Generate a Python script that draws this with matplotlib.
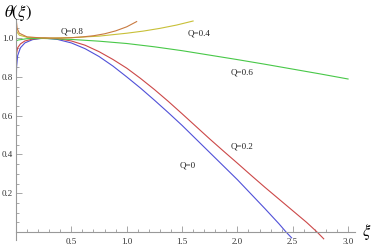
import numpy as np
import matplotlib.pyplot as plt
from matplotlib.ticker import MultipleLocator, FixedLocator

plt.rcParams['font.family'] = ['Liberation Serif', 'DejaVu Serif']
plt.rcParams['mathtext.fontset'] = 'stix'

# theta(xi) for each Q
xi_q0 = [0.001, 0.005, 0.015, 0.04, 0.08, 0.15, 0.25, 0.375, 0.5, 0.625, 0.75, 0.875, 1.0, 1.125, 1.25,
         1.375, 1.5, 1.625, 1.75, 1.875, 2.0, 2.125, 2.25, 2.375, 2.44, 2.49]
th_q0 = [0.72, 0.85, 0.91, 0.95, 0.975, 0.992, 1.0, 0.993, 0.975, 0.945, 0.905, 0.856, 0.80, 0.742, 0.68,
         0.616, 0.55, 0.48, 0.41, 0.34, 0.27, 0.195, 0.12, 0.043, 0.0, -0.03]

xi_q02 = [0.001, 0.005, 0.015, 0.04, 0.08, 0.15, 0.25, 0.375, 0.5, 0.625, 0.75, 0.875, 1.0, 1.125, 1.25,
          1.375, 1.5, 1.625, 1.75, 1.875, 2.0, 2.125, 2.25, 2.375, 2.5, 2.625, 2.72, 2.78]
th_q02 = [0.88, 0.92, 0.95, 0.97, 0.985, 0.995, 1.0, 0.997, 0.985, 0.963, 0.93, 0.89, 0.845, 0.792, 0.735,
          0.674, 0.61, 0.545, 0.48, 0.417, 0.355, 0.292, 0.23, 0.17, 0.11, 0.05, 0.0, -0.035]

xi_q06 = [0.001, 0.02, 0.1, 0.25, 0.5, 0.75, 1.0, 1.25, 1.5, 1.75, 2.0, 2.25, 2.5, 2.75, 3.0]
th_q06 = [0.985, 0.99, 0.997, 0.998, 0.993, 0.984, 0.972, 0.955, 0.935, 0.912, 0.889, 0.865, 0.84, 0.815, 0.789]

xi_q04 = [0.001, 0.01, 0.03, 0.1, 0.3, 0.5, 0.75, 1.0, 1.15, 1.3, 1.45, 1.6]
th_q04 = [1.06, 1.03, 1.015, 1.004, 1.0, 1.002, 1.01, 1.025, 1.036, 1.05, 1.067, 1.088]

xi_q08 = [0.001, 0.01, 0.03, 0.1, 0.25, 0.4, 0.5, 0.6, 0.7, 0.8, 0.9, 1.0, 1.09]
th_q08 = [1.1, 1.05, 1.025, 1.006, 1.0, 1.0, 1.002, 1.006, 1.012, 1.022, 1.037, 1.058, 1.085]

labels = ['Q=0', 'Q=0.2', 'Q=0.4', 'Q=0.6', 'Q=0.8']
label_x = [1.554, 2.04, 1.653, 2.04, 0.506]
label_y = [0.345, 0.443, 1.026, 0.82, 1.036]

fig = plt.figure(figsize=(3.74, 2.49), dpi=100)
ax = fig.add_axes([0.0428, 0.037, 0.9056, 0.888])

ax.plot(xi_q0, th_q0, color='#5050d8', lw=0.8)
ax.plot(xi_q02, th_q02, color='#cc4848', lw=0.8)
ax.plot(xi_q06, th_q06, color='#48c848', lw=0.8)
ax.plot(xi_q04, th_q04, color='#c8c038', lw=0.8)
ax.plot(xi_q08, th_q08, color='#c87a40', lw=0.8)

for t, x, y in zip(labels, label_x, label_y):
    ax.text(x, y, t, fontsize=6.5, ha='center', va='center', color='#222222')

ax.set_xlim(0, 3.06)
ax.set_ylim(-0.04, 1.1)

for s in ['top', 'right']:
    ax.spines[s].set_visible(False)
ax.spines['left'].set_position(('data', 0))
ax.spines['bottom'].set_position(('data', 0))
for s in ['left', 'bottom']:
    ax.spines[s].set_color('#999999')
    ax.spines[s].set_linewidth(0.8)

ax.xaxis.set_major_locator(FixedLocator([0.5, 1.0, 1.5, 2.0, 2.5, 3.0]))
ax.xaxis.set_minor_locator(MultipleLocator(0.1))
ax.yaxis.set_major_locator(FixedLocator([0.2, 0.4, 0.6, 0.8, 1.0]))
ax.yaxis.set_minor_locator(MultipleLocator(0.05))
ax.tick_params(which='both', direction='in', color='#999999', width=0.6, labelsize=6.5, labelcolor='#333333', pad=2)
ax.tick_params(which='major', length=4)
ax.tick_params(which='minor', length=2)
ax.xaxis.set_major_formatter(plt.FuncFormatter(lambda v, p: f'{v:.1f}'))
ax.yaxis.set_major_formatter(plt.FuncFormatter(lambda v, p: f'{v:.1f}'))
ax.tick_params(axis='x', pad=4)

fig.text(4 / 374, 1 - 13 / 249, r'$\theta(\xi)$', fontsize=12, va='center', ha='left')
fig.text(362 / 374, 1 - 232 / 249, r'$\xi$', fontsize=12, va='center', ha='left')

fig.savefig('out.png', dpi=100)
